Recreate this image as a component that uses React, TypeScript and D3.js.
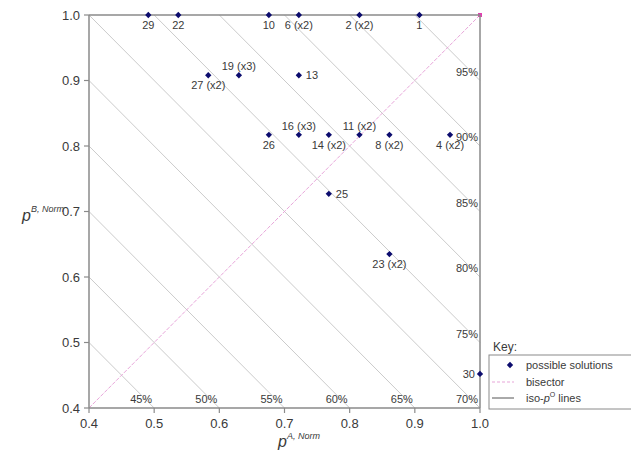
import React from "react";
import * as d3 from "d3";

// ---- data ----
const pointLabels = ["1", "2 (x2)", "4 (x2)", "6 (x2)", "8 (x2)", "10", "11 (x2)", "13", "14 (x2)", "16 (x3)", "19 (x3)", "22", "23 (x2)", "25", "26", "27 (x2)", "29", "30"];
const pA = [0.907, 0.815, 0.954, 0.722, 0.861, 0.676, 0.815, 0.722, 0.768, 0.722, 0.630, 0.537, 0.861, 0.768, 0.676, 0.583, 0.491, 1.0];
const pB = [1.0, 1.0, 0.817, 1.0, 0.817, 1.0, 0.817, 0.908, 0.817, 0.817, 0.908, 1.0, 0.635, 0.727, 0.817, 0.908, 1.0, 0.452];
const labelSide = ["below", "below", "below", "below", "below", "below", "above", "right", "below", "above", "above", "below", "below", "right", "below", "below", "below", "left"];
const isoSums = [0.9, 1.0, 1.1, 1.2, 1.3, 1.4, 1.5, 1.6, 1.7, 1.8, 1.9];
const ticks = [0.4, 0.5, 0.6, 0.7, 0.8, 0.9, 1.0];
const legendItems = ["possible solutions", "bisector", "iso-p lines"];

const W = 631, H = 452;
const L = 89, R = 480, T = 15, B = 408;
const FONT = "Liberation Sans, Arial, sans-serif";
const TXT = "#3a3a3a";
const AX = "#8a8a8a";

export default function App() {
  const x = d3.scaleLinear().domain([0.4, 1.0]).range([L, R]);
  const y = d3.scaleLinear().domain([0.4, 1.0]).range([B, T]);
  const diamond = d3.symbol().type(d3.symbolSquare).size(20)();

  const isoLines = isoSums.map((s) => {
    const x0 = Math.max(0.4, s - 1.0);
    const x1 = Math.min(1.0, s - 0.4);
    return { s, x0, y0: s - x0, x1, y1: s - x1 };
  });
  const line = d3.line<[number, number]>().x((d) => x(d[0])).y((d) => y(d[1]));

  return (
    <div style={{ position: "absolute", left: 0, top: 0 }}>
      <svg width={W} height={H} style={{ display: "block", background: "#fff" }} fontFamily={FONT}>
        <rect x={0} y={0} width={W} height={H} fill="#fff" />
        {/* iso lines */}
        {isoLines.map((l, i) => (
          <path key={"iso" + i} d={line([[l.x0, l.y0], [l.x1, l.y1]]) || ""} stroke="#cbcbcb" strokeWidth={1} fill="none" />
        ))}
        {isoLines.map((l, i) => (
          <text key={"isol" + i} x={x(l.x1) - 2} y={y(l.y1) - 5} textAnchor="end" fontSize={11} fill={TXT}>
            {Math.round(l.s * 50) + "%"}
          </text>
        ))}
        {/* bisector */}
        <path d={line([[0.4, 0.4], [1.0, 1.0]]) || ""} stroke="#e8a6da" strokeWidth={1} strokeDasharray="4,1.5" fill="none" />
        <rect x={x(1.0) - 2} y={y(1.0) - 2} width={4} height={4} fill="#e040b0" />
        {/* frame & axes */}
        <line x1={L} x2={R} y1={T} y2={T} stroke={AX} strokeWidth={1.5} />
        <line x1={R} x2={R} y1={T} y2={B} stroke={AX} strokeWidth={1.5} />
        <line x1={L} x2={R} y1={B} y2={B} stroke={AX} strokeWidth={1.5} />
        <line x1={L} x2={L} y1={T} y2={B} stroke={AX} strokeWidth={1.5} />
        {ticks.map((t) => (
          <g key={"xt" + t}>
            <line x1={x(t)} x2={x(t)} y1={B} y2={B + 5} stroke={AX} strokeWidth={1.2} />
            <text x={x(t)} y={428} textAnchor="middle" fontSize={13} fill={TXT}>{t.toFixed(1)}</text>
          </g>
        ))}
        {ticks.map((t) => (
          <g key={"yt" + t}>
            <line x1={L - 5} x2={L} y1={y(t)} y2={y(t)} stroke={AX} strokeWidth={1.2} />
            <text x={L - 9} y={y(t) + 4.5} textAnchor="end" fontSize={13} fill={TXT}>{t.toFixed(1)}</text>
          </g>
        ))}
        {/* axis titles */}
        <text x={278} y={447} fontSize={16} fill={TXT} fontStyle="italic">
          p<tspan dy={-8} fontSize={9}>A, Norm</tspan>
        </text>
        <text x={22} y={221} fontSize={16} fill={TXT} fontStyle="italic">
          p<tspan dy={-9} fontSize={9}>B, Norm</tspan>
        </text>
        {/* points */}
        {pA.map((a, i) => (
          <path key={"pt" + i} d={diamond} transform={`translate(${x(a)},${y(pB[i])}) rotate(45)`} fill="#0c0c6e" />
        ))}
        {pA.map((a, i) => {
          const px = x(a), py = y(pB[i]);
          const side = labelSide[i];
          let tx = px, ty = py + 14, anchor = "middle";
          if (side === "above") { ty = py - 5; }
          else if (side === "right") { tx = px + 7; ty = py + 4; anchor = "start"; }
          else if (side === "left") { tx = px - 5; ty = py + 4; anchor = "end"; }
          return (
            <text key={"pl" + i} x={tx} y={ty} textAnchor={anchor} fontSize={11} fill={TXT}>{pointLabels[i]}</text>
          );
        })}
        {/* legend */}
        <text x={493} y={351} fontSize={12} fill={TXT}>Key:</text>
        <rect x={489} y={355} width={150} height={54} fill="#fff" stroke={AX} strokeWidth={1} />
        <path d={diamond} transform={`translate(${510},${365}) rotate(45)`} fill="#0c0c6e" />
        <text x={526} y={369} fontSize={11} fill={TXT}>{legendItems[0]}</text>
        <line x1={492} x2={514} y1={382} y2={382} stroke="#e8a6da" strokeWidth={1.2} strokeDasharray="3,2" />
        <text x={526} y={386} fontSize={11} fill={TXT}>{legendItems[1]}</text>
        <line x1={492} x2={514} y1={398} y2={398} stroke="#555" strokeWidth={1} />
        <text x={526} y={402} fontSize={11} fill={TXT}>
          iso-<tspan fontStyle="italic">p</tspan><tspan dy={-5} fontSize={7}>O</tspan><tspan dy={5}> lines</tspan>
        </text>
      </svg>
    </div>
  );
}
